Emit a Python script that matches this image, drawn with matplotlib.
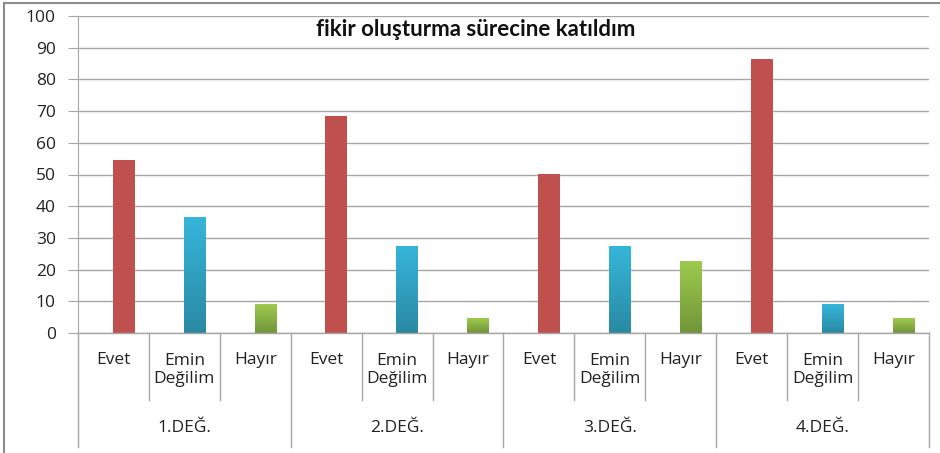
import numpy as np
import matplotlib.pyplot as plt
from matplotlib.colors import LinearSegmentedColormap

# data
groups = ["1.DEĞ.", "2.DEĞ.", "3.DEĞ.", "4.DEĞ."]
answers = ["Evet", "Emin\nDeğilim", "Hayır"]
evet = [54.5, 68.2, 50.0, 86.4]
emin = [36.4, 27.3, 27.3, 9.1]
hayir = [9.1, 4.5, 22.7, 4.5]
title = "fikir oluşturma sürecine katıldım"

# colours: (top, bottom) for gradient
colors = [("#C0504D", "#C0504D"), ("#36B5DA", "#2A8AA3"), ("#9DCA4E", "#72963A")]

fig = plt.figure(figsize=(9.4, 4.53), dpi=100)
ax = fig.add_axes([78 / 940, 1 - 333 / 453, (929 - 78) / 940, 317 / 453])

n = len(answers)
w = 0.3
off = 0.14
series = [evet, emin, hayir]
for g in range(len(groups)):
    for k in range(n):
        x = g * n + k + off
        v = series[k][g]
        top, bot = colors[k]
        cmap = LinearSegmentedColormap.from_list("c", [bot, top])
        grad = np.linspace(0, 1, 64).reshape(-1, 1)
        ax.imshow(grad, cmap=cmap, origin="lower", aspect="auto",
                  extent=(x - w / 2, x + w / 2, 0, v), zorder=3)

ax.set_xlim(-0.5, len(groups) * n - 0.5)
ax.set_ylim(0, 100)
ax.set_yticks(range(0, 101, 10))
ax.set_xticks([])
ax.grid(axis="y", color="#A6A6A6", linewidth=1)
ax.set_axisbelow(True)
for s in ["top", "right", "bottom"]:
    ax.spines[s].set_visible(False)
ax.spines["left"].set_color("#A6A6A6")
ax.tick_params(axis="y", length=7, color="#A6A6A6", pad=9, labelsize=12.5,
               labelcolor="#222222")
for lbl in ax.get_yticklabels():
    lbl.set_fontfamily("Open Sans")

# multi-level category axis
trans = ax.get_xaxis_transform()
ax.plot([-0.5, len(groups) * n - 0.5], [0, 0], color="#A6A6A6", lw=1,
        transform=trans, clip_on=False, zorder=4)
for i in range(len(groups) * n + 1):
    xb = i - 0.5
    ybot = -0.36 if i % n == 0 else -0.211
    ax.plot([xb, xb], [0, ybot], color="#A6A6A6", lw=1, transform=trans,
            clip_on=False)
for g, name in enumerate(groups):
    for k, a in enumerate(answers):
        ax.text(g * n + k, -0.085 if "\n" not in a else -0.117, a,
                transform=trans, ha="center", va="center", fontsize=12.5,
                family="Open Sans", color="#222222", linespacing=1.1)
    ax.text(g * n + 1, -0.30, name, transform=trans, ha="center", va="center",
            fontsize=12.5, family="Open Sans", color="#222222")

fig.text(476 / 940, 1 - 30 / 453, title, ha="center", va="center",
         fontsize=16, fontweight="bold", family="Lato", color="#111111")

# chart border
fig.add_artist(plt.Line2D([4 / 940, 1], [1 - 3 / 453] * 2, color="#8C8C8C", lw=1.5))
fig.add_artist(plt.Line2D([4 / 940] * 2, [0, 1 - 3 / 453], color="#8C8C8C", lw=1.5))

fig.savefig("out.png", dpi=100)
